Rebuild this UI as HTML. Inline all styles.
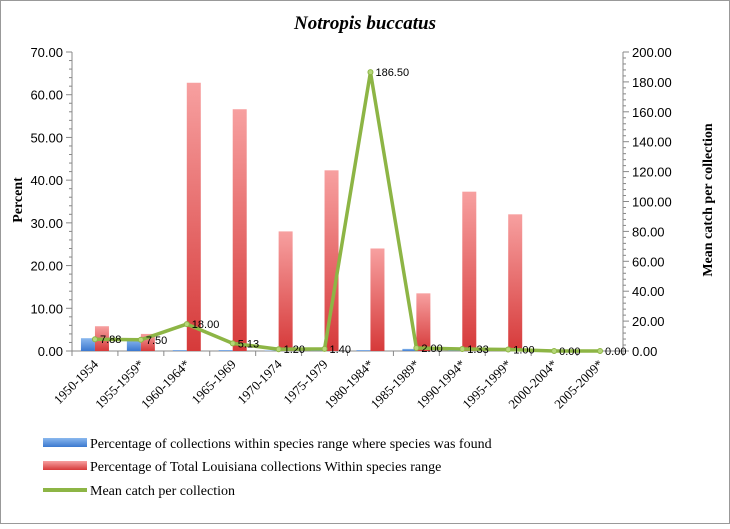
<!DOCTYPE html>
<html><head><meta charset="utf-8"><style>
body{margin:0;background:#fff;}
</style></head><body>
<svg width="730" height="524" xmlns="http://www.w3.org/2000/svg" font-family="Liberation Serif, serif">
<defs>
<linearGradient id="gr" x1="0" y1="0" x2="0" y2="1"><stop offset="0" stop-color="#f7a0a0"/><stop offset="1" stop-color="#d63a3a"/></linearGradient>
<linearGradient id="gb" x1="0" y1="0" x2="0" y2="1"><stop offset="0" stop-color="#8ab8ee"/><stop offset="1" stop-color="#3b78cf"/></linearGradient>
</defs>
<rect x="0.5" y="0.5" width="729" height="523" fill="#fff" stroke="#999"/>
<text x="365" y="29" text-anchor="middle" font-size="19" font-weight="bold" font-style="italic">Notropis buccatus</text>
<g id="plot"></g>
<text transform="translate(22,200) rotate(-90)" text-anchor="middle" font-size="14" font-weight="bold">Percent</text>
<text transform="translate(712,200) rotate(-90)" text-anchor="middle" font-size="14" font-weight="bold">Mean catch per collection</text>
<g font-size="14">
<g><rect x="43" y="438" width="44" height="9" fill="url(#gb)"/><text x="90" y="448">Percentage of  collections within species range where species was found</text></g>
<g><rect x="43" y="461" width="44" height="9" fill="url(#gr)"/><text x="90" y="471">Percentage of Total Louisiana collections Within species range</text></g>
<g><line x1="43" y1="490" x2="87" y2="490" stroke="#8db545" stroke-width="4"/><text x="90" y="495">Mean catch per collection</text></g>
</g>
</svg>
<script>
const categories=["1950-1954","1955-1959*","1960-1964*","1965-1969","1970-1974","1975-1979","1980-1984*","1985-1989*","1990-1994*","1995-1999*","2000-2004*","2005-2009*"];
const foundPct=[3.0,2.8,0.2,0.2,0.1,0.1,0.2,0.5,0.1,0.1,0,0];
const totalPct=[5.8,4.0,62.8,56.6,28.0,42.3,24.0,13.5,37.3,32.0,0,0];
const meanCatch=[7.88,7.50,18.00,5.13,1.20,1.40,186.50,2.00,1.33,1.00,0.00,0.00];
const meanLabels=["7.88","7.50","18.00","5.13","1.20","1.40","186.50","2.00","1.33","1.00","0.00","0.00"];
const leftTicks=[0,10,20,30,40,50,60,70];
const rightTicks=[0,20,40,60,80,100,120,140,160,180,200];

const NS="http://www.w3.org/2000/svg";
const g=document.getElementById('plot');
const X0=72,X1=623,Y0=351,Y1=52;
const step=(X1-X0)/categories.length;
const xc=i=>X0+step*(i+0.5);
const yL=v=>Y0-(v/70)*(Y0-Y1);
const yR=v=>Y0-(v/200)*(Y0-Y1);
function el(t,a,p){const e=document.createElementNS(NS,t);for(const k in a)e.setAttribute(k,a[k]);(p||g).appendChild(e);return e;}

let e=el('line',{x1:X0,y1:Y1,x2:X0,y2:Y0,stroke:'#888'});


e=el('line',{x1:X1,y1:Y1,x2:X1,y2:Y0,stroke:'#888'});


e=el('line',{x1:X0,y1:Y0,x2:X1,y2:Y0,stroke:'#888'});


for(let v=0;v<=70;v+=2){el('line',{x1:X0-(v%10==0?6:3),y1:yL(v),x2:X0,y2:yL(v),stroke:'#888'});}
for(let v=0;v<=200;v+=4){el('line',{x1:X1,y1:yR(v),x2:X1+(v%20==0?6:3),y2:yR(v),stroke:'#888'});}
leftTicks.forEach(v=>{const t=el('text',{x:X0-9,y:yL(v)+5,'text-anchor':'end','font-size':13,'font-family':'Liberation Sans, sans-serif'});t.textContent=v.toFixed(2);

});
rightTicks.forEach(v=>{const t=el('text',{x:X1+9,y:yR(v)+5,'font-size':13,'font-family':'Liberation Sans, sans-serif'});t.textContent=v.toFixed(2);

});
for(let i=0;i<=categories.length;i++)el('line',{x1:X0+step*i,y1:Y0,x2:X0+step*i,y2:Y0+5,stroke:'#888'});
categories.forEach((c,i)=>{
  const bw=14;
  let b=el('rect',{x:xc(i)-bw,y:yL(foundPct[i]),width:bw,height:Y0-yL(foundPct[i]),fill:'url(#gb)'});
  
  
  b=el('rect',{x:xc(i),y:yL(totalPct[i]),width:bw,height:Y0-yL(totalPct[i]),fill:'url(#gr)'});
  
  
  const t=el('text',{transform:`translate(${xc(i)+4},${Y0+14}) rotate(-45)`,'text-anchor':'end','font-size':13});
  t.textContent=c;
  
  
});
const pts=meanCatch.map((v,i)=>xc(i)+','+yR(v)).join(' ');
e=el('polyline',{points:pts,fill:'none',stroke:'#8db545','stroke-width':3.5,'stroke-linejoin':'round'});


meanCatch.forEach((v,i)=>{
  const p=el('circle',{cx:xc(i),cy:yR(v),r:2.5,fill:'#b5d77a',stroke:'#8db545'});
  
  
  const t=el('text',{x:xc(i)+5,y:yR(v)+4,'font-size':11,'font-family':'Liberation Sans, sans-serif'});
  t.textContent=meanLabels[i];
  
  
});
</script>
</body></html>
